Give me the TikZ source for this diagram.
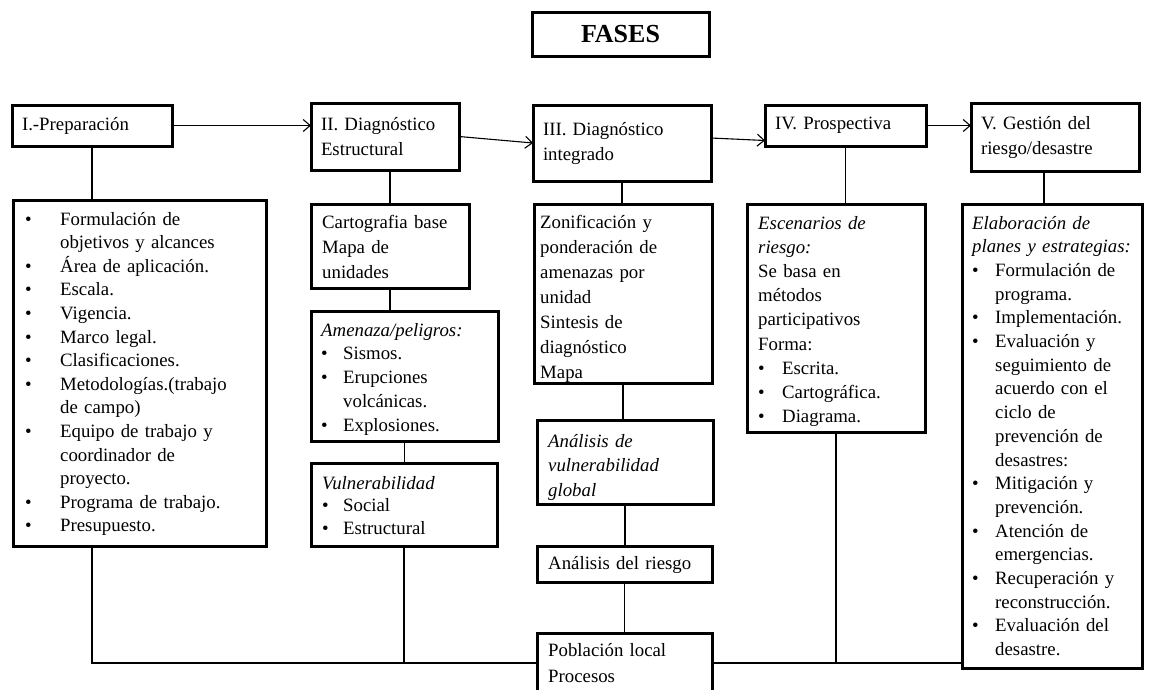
\documentclass[tikz,border=0pt]{standalone}
\usepackage{fontspec}
\setmainfont{Liberation Serif}
\usetikzlibrary{arrows.meta}
% bullet item / continuation indent of a given width
\newcommand{\bi}[1]{\makebox[#1pt][l]{\textbullet}}
\newcommand{\ci}[1]{\hspace*{#1pt}}
\begin{document}
\begin{tikzpicture}[x=1pt,y=-1pt,
  frame/.style={draw, line width=3pt, fill=white, rectangle, inner sep=0pt, outer sep=0pt, anchor=north west},
  head/.style={frame, inner xsep=10pt, align=left, font=\fontsize{18.8}{25}\selectfont},
  txt/.style={inner sep=0pt, anchor=base west, align=left},
  conn/.style={line width=1.1pt},
  arr/.style={-{Straight Barb[length=7pt,width=12pt]}}]
\useasboundingbox (0,0) rectangle (1151,689);
\fill[white] (0,0) rectangle (1151,689);

% title
\node[frame, anchor=center, minimum width=177, minimum height=44,
      font=\fontsize{26}{30}\selectfont\bfseries] (fases) at (620.5,34) {FASES};

% phase headers
\node[head, minimum width=160, minimum height=41, text width=140] (prep) at (12,105) {I.-Preparación};
\node[head, minimum width=148, minimum height=67, text width=128] (ii) at (311,103) {II. Diagnóstico\\Estructural};
\node[head, minimum width=178, minimum height=76, text width=158] (iii) at (533,105) {III. Diagnóstico\\integrado};
\node[head, minimum width=161, minimum height=41, text width=141] (iv) at (765,105) {IV. Prospectiva};
\node[head, minimum width=168, minimum height=68, text width=148] (v) at (971,103) {V. Gestión del\\riesgo/desastre};

% detail frames
\node[frame, minimum width=253, minimum height=346] (prepL) at (13,200) {};
\node[frame, minimum width=158, minimum height=84]  (cart)  at (311,204) {};
\node[frame, minimum width=187, minimum height=130] (amen)  at (311,311) {};
\node[frame, minimum width=186, minimum height=83]  (vul)   at (311,463) {};
\node[frame, minimum width=178, minimum height=179] (zon)   at (534,204) {};
\node[frame, minimum width=176, minimum height=84]  (anv)   at (537,420) {};
\node[frame, minimum width=175, minimum height=36]  (rie)   at (537,546) {};
\node[frame, minimum width=175, minimum height=60]  (pob)   at (537,633) {};
\node[frame, minimum width=178, minimum height=228] (esc)   at (747,204) {};
\node[frame, minimum width=180, minimum height=464] (gest)  at (962,204) {};

% detail texts
\node[txt, text width=238, font=\fontsize{18.8}{23.6}\selectfont] (prepT) at (25,225) {%
\bi{35}Formulación de\\
\ci{35}objetivos y alcances\\
\bi{35}Área de aplicación.\\
\bi{35}Escala.\\
\bi{35}Vigencia.\\
\bi{35}Marco legal.\\
\bi{35}Clasificaciones.\\
\bi{35}Metodologías.(trabajo\\
\ci{35}de campo)\\
\bi{35}Equipo de trabajo y\\
\ci{35}coordinador de\\
\ci{35}proyecto.\\
\bi{35}Programa de trabajo.\\
\bi{35}Presupuesto.};

\node[txt, text width=145, font=\fontsize{18.8}{25}\selectfont] (cartT) at (322,228) {%
Cartografia base\\Mapa de\\unidades};

\node[txt, text width=175, font=\fontsize{18.8}{23.8}\selectfont] (amenT) at (321,336) {%
\textit{Amenaza/peligros:}\\
\bi{22}Sismos.\\
\bi{22}Erupciones\\
\ci{22}volcánicas.\\
\bi{22}Explosiones.};

\node[txt, text width=172, font=\fontsize{18.8}{22.5}\selectfont] (vulT) at (322,489) {%
\textit{Vulnerabilidad}\\
\bi{21}Social\\
\bi{21}Estructural};

\node[txt, text width=168, font=\fontsize{18.8}{25}\selectfont] (zonT) at (540,228) {%
Zonificación y\\ponderación de\\amenazas por\\unidad\\Sintesis de\\diagnóstico\\Mapa};

\node[txt, text width=160, font=\fontsize{18.8}{24.5}\selectfont\itshape] (anvT) at (548,447) {%
Análisis de\\vulnerabilidad\\global};

\node[txt, text width=160, font=\fontsize{18.8}{24}\selectfont] (rieT) at (548,569) {Análisis del riesgo};

\node[txt, text width=160, font=\fontsize{18.8}{26}\selectfont] (pobT) at (548,656) {Población local\\Procesos};

\node[txt, text width=165, font=\fontsize{18.8}{24.2}\selectfont] (escT) at (758,229) {%
\textit{Escenarios de}\\
\textit{riesgo:}\\
Se basa en\\
métodos\\
participativos\\
Forma:\\
\bi{24}Escrita.\\
\bi{24}Cartográfica.\\
\bi{24}Diagrama.};

\node[txt, text width=168, font=\fontsize{18.8}{23.7}\selectfont] (gestT) at (972,229) {%
\textit{Elaboración de}\\
\textit{planes y estrategias:}\\
\bi{23}Formulación de\\
\ci{23}programa.\\
\bi{23}Implementación.\\
\bi{23}Evaluación y\\
\ci{23}seguimiento de\\
\ci{23}acuerdo con el\\
\ci{23}ciclo de\\
\ci{23}prevención de\\
\ci{23}desastres:\\
\bi{23}Mitigación y\\
\ci{23}prevención.\\
\bi{23}Atención de\\
\ci{23}emergencias.\\
\bi{23}Recuperación y\\
\ci{23}reconstrucción.\\
\bi{23}Evaluación del\\
\ci{23}desastre.};

% arrows between phases
\draw[conn,arr] (prep.east) -- (prep.east -| ii.west);
\draw[conn,arr] (ii.east) -- (iii.west);
\draw[conn,arr] ([yshift=5pt]iii.east) -- ([yshift=-15pt]iv.west);
\draw[conn,arr] (iv.east) -- (iv.east -| v.west);

% vertical links
\draw[conn] (prep.south) -- (prep.south |- prepL.north);
\draw[conn] (cart.north |- ii.south) -- (cart.north);
\draw[conn] (cart.south) -- (cart.south |- amen.north);
\draw[conn] (amen.south) -- (amen.south |- vul.north);
\draw[conn] (iii.south) -- (iii.south |- zon.north);
\draw[conn] (zon.south) -- (zon.south |- anv.north);
\draw[conn] (anv.south) -- (anv.south |- rie.north);
\draw[conn] (rie.south) -- (rie.south |- pob.north);
\draw[conn] (iv.south) -- (iv.south |- esc.north);
\draw[conn] ([xshift=-11pt]v.south) -- ([xshift=-11pt]v.south |- gest.north);

% bottom bus to the local population
\draw[conn] (prepL.south -| prep.south) -- (pob.west -| prep.south) -- (pob.west);
\draw[conn] (vul.south) -- (vul.south |- pob.west);
\draw[conn] (pob.east) -- (pob.east -| gest.west);
\draw[conn] (esc.south) -- (esc.south |- pob.east);
\end{tikzpicture}
\end{document}
